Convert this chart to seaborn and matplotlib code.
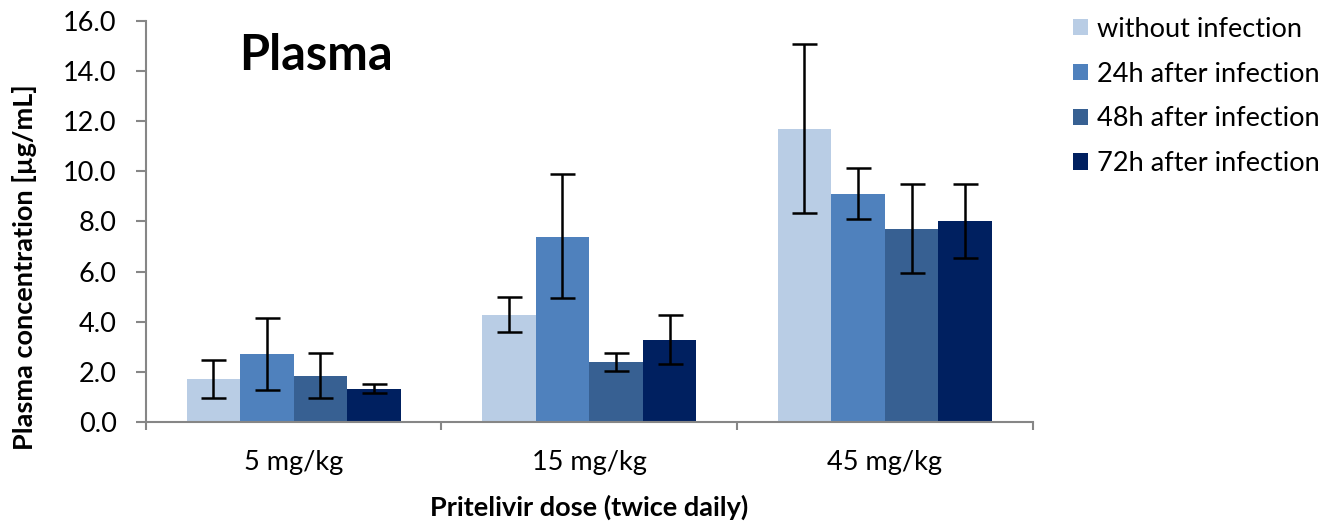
import numpy as np
import pandas as pd
import seaborn as sns
import matplotlib.pyplot as plt
from matplotlib.ticker import FormatStrFormatter, FixedLocator

# values
doses = ['5 mg/kg', '15 mg/kg', '45 mg/kg']
groups = ['without infection', '24h after infection', '48h after infection', '72h after infection']
colors = ['#B9CDE5', '#4F81BD', '#376092', '#002060']

mean_without = [1.70, 4.29, 11.70]
mean_24h = [2.70, 7.40, 9.11]
mean_48h = [1.84, 2.39, 7.71]
mean_72h = [1.33, 3.28, 8.03]

low_without = [0.94, 3.59, 8.32]
low_24h = [1.26, 4.95, 8.10]
low_48h = [0.94, 2.03, 5.96]
low_72h = [1.17, 2.30, 6.54]

high_without = [2.47, 4.98, 15.09]
high_24h = [4.17, 9.88, 10.12]
high_48h = [2.74, 2.75, 9.49]
high_72h = [1.50, 4.28, 9.48]

means = [mean_without, mean_24h, mean_48h, mean_72h]
lows = [low_without, low_24h, low_48h, low_72h]
highs = [high_without, high_24h, high_48h, high_72h]

rows = []
for g, m in zip(groups, means):
    for d, v in zip(doses, m):
        rows.append({'dose': d, 'group': g, 'conc': v})
df = pd.DataFrame(rows)

sns.set_style('white')
plt.rcParams['font.family'] = ['Lato', 'DejaVu Sans']
plt.rcParams['text.color'] = 'black'
plt.rcParams['axes.labelcolor'] = 'black'
plt.rcParams['xtick.color'] = 'black'
plt.rcParams['ytick.color'] = 'black'

fs = 19.5

fig = plt.figure(figsize=(13.34, 5.23), dpi=100)
ax = fig.add_axes([0.1094, 0.193, 0.6646, 0.767])

sns.barplot(data=df, x='dose', y='conc', hue='group', order=doses, hue_order=groups,
            palette=colors, width=0.725, gap=0, saturation=1, errorbar=None,
            linewidth=0, ax=ax)

# error bars at the bar centres
for cont, m, lo, hi in zip(ax.containers, means, lows, highs):
    xs = [p.get_x() + p.get_width() / 2 for p in cont.patches]
    m = np.array(m)
    yerr = [m - np.array(lo), np.array(hi) - m]
    ax.errorbar(xs, m, yerr=yerr, fmt='none', ecolor='black', elinewidth=1.8,
                capsize=9, capthick=1.8, zorder=5)

ax.set_xlim(-0.5, 2.5)
ax.set_ylim(0, 16)
ax.set_yticks(np.arange(0, 16.1, 2))
ax.yaxis.set_major_formatter(FormatStrFormatter('%.1f'))
ax.xaxis.set_minor_locator(FixedLocator([-0.5, 0.5, 1.5, 2.5]))

for s in ['top', 'right']:
    ax.spines[s].set_visible(False)
for s in ['left', 'bottom']:
    ax.spines[s].set_color('#868686')
    ax.spines[s].set_linewidth(1.5)

ax.tick_params(axis='y', which='major', direction='out', length=7, width=1.5,
               color='#868686', labelcolor='black', labelsize=fs, left=True, pad=14)
ax.tick_params(axis='x', which='major', length=0, labelsize=fs, labelcolor='black', pad=20)
ax.tick_params(axis='x', which='minor', direction='out', length=6, width=1.5,
               color='#868686', bottom=True)

ax.set_xlabel('Pritelivir dose (twice daily)', fontsize=fs, fontweight='bold')
ax.set_ylabel('Plasma concentration [µg/mL]', fontsize=fs, fontweight='bold')
ax.xaxis.set_label_coords(0.5, -0.18)
ax.yaxis.set_label_coords(-0.123, 0.387)

ax.text(0.192, 0.878, 'Plasma', transform=ax.transAxes, fontsize=35,
        fontweight='bold', ha='center', va='baseline', color='black')

handles, labels = ax.get_legend_handles_labels()
ax.legend(handles, labels, loc='upper left', bbox_to_anchor=(1.034, 1.037),
          frameon=False, fontsize=fs, handlelength=0.55, handleheight=0.55,
          handletextpad=0.33, labelspacing=0.73, borderaxespad=0)

fig.savefig('out.png', dpi=100)
